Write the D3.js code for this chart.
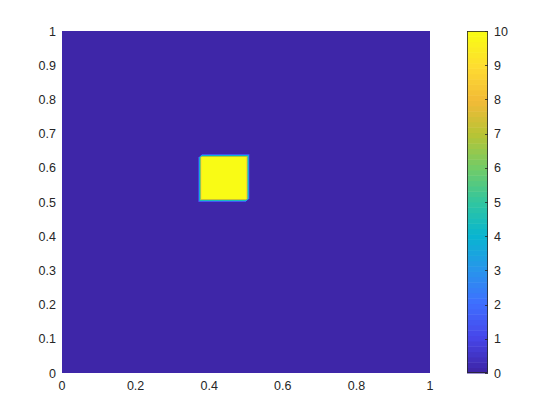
<html>
<head>
<style>
    body { margin: 0; background: #fff; }
    svg text { font-family: "Liberation Sans", Arial, Helvetica, sans-serif; font-size: 12.5px; fill: #262626; }
</style>
</head>
<body>
<svg id="chart"></svg>
<script src="https://d3js.org/d3.v7.min.js"></script>
<script>
    // field: value 10 on the grid nodes inside the square, 0 elsewhere
    const gridStep = 0.01;
    const squareX = [0.38, 0.50];
    const squareY = [0.51, 0.63];
    const squareValue = 10;
    const backgroundValue = 0;

    const xTicks = [0, 0.2, 0.4, 0.6, 0.8, 1];
    const yTicks = [0, 0.1, 0.2, 0.3, 0.4, 0.5, 0.6, 0.7, 0.8, 0.9, 1];
    const cTicks = [0, 1, 2, 3, 4, 5, 6, 7, 8, 9, 10];

    // parula anchor colours (approx)
    const parulaStops = ["#3e26a8", "#4747eb", "#3e6fff", "#2796eb", "#08b5d0",
                         "#31c69f", "#71cc68", "#b7c435", "#f2ba37", "#fedb31", "#f9fb15"];

    const width = 560, height = 420;
    const plot = {left: 62, right: 430, top: 31, bottom: 373};
    const cbar = {left: 467, right: 488};

    const svg = d3.select("#chart").attr("width", width).attr("height", height);

    const x = d3.scaleLinear().domain([0, 1]).range([plot.left, plot.right]);
    const y = d3.scaleLinear().domain([0, 1]).range([plot.bottom, plot.top]);
    const c = d3.scaleLinear().domain([0, 10]).range([plot.bottom, plot.top]);

    const parula = d3.scaleLinear()
        .domain(parulaStops.map((d, i) => i / (parulaStops.length - 1)))
        .range(parulaStops)
        .interpolate(d3.interpolateRgb);
    const nColors = 64;
    const cmap = d3.range(nColors).map(k => d3.rgb(parula(k / (nColors - 1))));
    function colorOf(v) {
        let k = Math.floor(v / 10 * nColors);
        return cmap[Math.max(0, Math.min(nColors - 1, k))];
    }

    function node(i, j) {
        const i0 = Math.round(squareX[0] / gridStep), i1 = Math.round(squareX[1] / gridStep);
        const j0 = Math.round(squareY[0] / gridStep), j1 = Math.round(squareY[1] / gridStep);
        return (i >= i0 && i <= i1 && j >= j0 && j <= j1) ? squareValue : backgroundValue;
    }

    // interpolated surface (triangulated cells, like shading interp)
    const pw = plot.right - plot.left, ph = plot.bottom - plot.top;
    const canvas = document.createElement("canvas");
    canvas.width = pw; canvas.height = ph;
    const ctx = canvas.getContext("2d");
    const img = ctx.createImageData(pw, ph);
    for (let py = 0; py < ph; py++) {
        for (let px = 0; px < pw; px++) {
            const dx = x.invert(plot.left + px + 0.5) / gridStep;
            const dy = y.invert(plot.top + py + 0.5) / gridStep;
            const i = Math.floor(dx), j = Math.floor(dy);
            const u = dx - i, w = dy - j;
            const f00 = node(i, j), f10 = node(i + 1, j), f01 = node(i, j + 1), f11 = node(i + 1, j + 1);
            let v;
            if (u >= w) v = f00 + u * (f10 - f00) + w * (f11 - f10);
            else v = f00 + w * (f01 - f00) + u * (f11 - f01);
            const col = colorOf(v);
            const o = (py * pw + px) * 4;
            img.data[o] = col.r; img.data[o + 1] = col.g; img.data[o + 2] = col.b; img.data[o + 3] = 255;
        }
    }
    ctx.putImageData(img, 0, 0);

    svg.append("image")
        .attr("x", plot.left).attr("y", plot.top)
        .attr("width", pw).attr("height", ph)
        .attr("href", canvas.toDataURL());

    // axis tick labels
    svg.append("g").selectAll("text").data(xTicks).join("text")
        .attr("x", d => x(d))
        .attr("y", plot.bottom + 17)
        .attr("text-anchor", "middle")
        .text(d => d3.format("~g")(d));

    svg.append("g").selectAll("text").data(yTicks).join("text")
        .attr("x", plot.left - 6)
        .attr("y", d => y(d) + 4.5)
        .attr("text-anchor", "end")
        .text(d => d3.format("~g")(d));

    // colorbar
    const cb = svg.append("g");
    cb.selectAll("rect").data(cmap).join("rect")
        .attr("x", cbar.left)
        .attr("width", cbar.right - cbar.left)
        .attr("y", (d, k) => c((k + 1) * 10 / nColors))
        .attr("height", (d, k) => c(k * 10 / nColors) - c((k + 1) * 10 / nColors) + 0.5)
        .attr("fill", d => d);
    cb.append("rect")
        .attr("x", cbar.left + 0.5).attr("y", plot.top + 0.5)
        .attr("width", cbar.right - cbar.left - 1).attr("height", ph - 1)
        .attr("fill", "none").attr("stroke", "#262626").attr("stroke-width", 0.8);
    cb.selectAll("line.tick").data(cTicks).join("line")
        .attr("class", "tick")
        .attr("x1", cbar.right - 3).attr("x2", cbar.right)
        .attr("y1", d => Math.round(c(d)) + 0.5).attr("y2", d => Math.round(c(d)) + 0.5)
        .attr("stroke", "#262626").attr("stroke-width", 0.8);
    cb.selectAll("text").data(cTicks).join("text")
        .attr("x", cbar.right + 6)
        .attr("y", d => c(d) + 4.5)
        .attr("text-anchor", "start")
        .text(d => d);
</script>
</body>
</html>
